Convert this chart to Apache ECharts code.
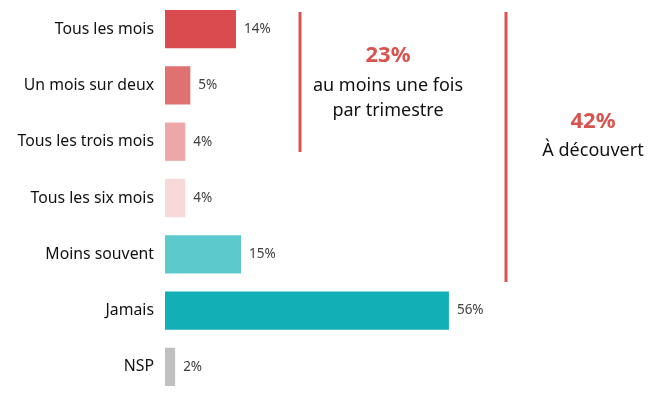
<!DOCTYPE html>
<html><head><meta charset="utf-8">
<script src="https://cdn.jsdelivr.net/npm/echarts@6/dist/echarts.min.js"></script>
<style>html,body{margin:0;padding:0;background:#fff}#c{width:672px;height:402px}</style>
</head><body><div id="c"></div>
<script>
const categories = ["Tous les mois","Un mois sur deux","Tous les trois mois","Tous les six mois","Moins souvent","Jamais","NSP"];
const values = [14,5,4,4,15,56,2];
const colors = ["#d94b4f","#e07171","#eca8a8","#f7d9da","#5cc9cc","#13afb6","#c0c0c0"];
const font = "Noto Sans";
const chart = echarts.init(document.getElementById('c'));
chart.setOption({
  animation:false,
  grid:{left:165,top:1,width:507,height:394,containLabel:false},
  xAxis:{type:'value',min:0,max:100,show:false},
  yAxis:{type:'category',inverse:true,data:categories,
    axisLine:{show:false},axisTick:{show:false},
    axisLabel:{color:'#111',fontSize:15.8,fontFamily:font,margin:11}},
  series:[{type:'bar',barCategoryGap:'32%',
    data:values.map((v,i)=>({value:v,itemStyle:{color:colors[i]}})),
    label:{show:true,position:'right',distance:8,color:'#404040',fontSize:13.5,fontFamily:font,formatter:'{c}%'}}],
  graphic:[
    {type:'line',shape:{x1:300,y1:12,x2:300,y2:152},style:{stroke:'#d9534f',lineWidth:3}},
    {type:'line',shape:{x1:506,y1:12,x2:506,y2:282},style:{stroke:'#d9534f',lineWidth:3}},
    {type:'text',x:388,y:56,style:{text:'23%',fill:'#d9534f',font:'bold 22px "Noto Sans"',align:'center',verticalAlign:'middle'}},
    {type:'text',x:388,y:86,style:{text:'au moins une fois',fill:'#111',font:'18px "Noto Sans"',align:'center',verticalAlign:'middle'}},
    {type:'text',x:388,y:111,style:{text:'par trimestre',fill:'#111',font:'18px "Noto Sans"',align:'center',verticalAlign:'middle'}},
    {type:'text',x:593,y:122,style:{text:'42%',fill:'#d9534f',font:'bold 22px "Noto Sans"',align:'center',verticalAlign:'middle'}},
    {type:'text',x:593,y:151,style:{text:'À découvert',fill:'#111',font:'18px "Noto Sans"',align:'center',verticalAlign:'middle'}}
  ]
});
</script></body></html>
